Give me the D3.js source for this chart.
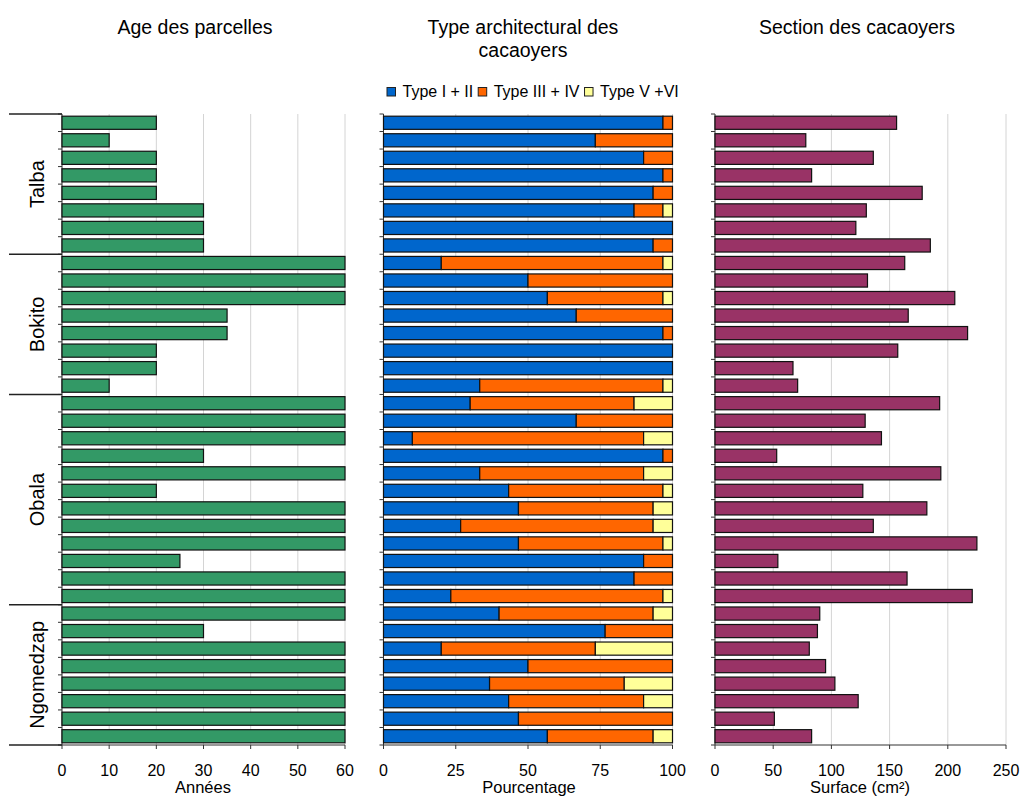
<!DOCTYPE html>
<html>
<head>
<meta charset="utf-8">
<script src="https://cdn.jsdelivr.net/npm/d3@7"></script>
<style>
  body { margin: 0; background: #fff; }
  text { font-family: "Liberation Sans", Arial, sans-serif; fill: #000; }
</style>
</head>
<body>
<script>
// sites and number of plots per site (top to bottom)
let groups = ["Talba", "Bokito", "Obala", "Ngomedzap"];
let groupSizes = [8, 8, 12, 8];

// age of plots (years)
let age = [20, 10, 20, 20, 20, 30, 30, 30,
           60, 60, 60, 35, 35, 20, 20, 10,
           60, 60, 60, 30, 60, 20, 60, 60, 60, 25, 60, 60,
           60, 30, 60, 60, 60, 60, 60, 60];

// architectural type (%)
let typeI_II = [96.7, 73.3, 90, 96.7, 93.3, 86.7, 100, 93.3,
                20, 50, 56.7, 66.7, 96.7, 100, 100, 33.3,
                30, 66.7, 10, 96.7, 33.3, 43.3, 46.7, 26.7, 46.7, 90, 86.7, 23.3,
                40, 76.7, 20, 50, 36.7, 43.3, 46.7, 56.7];
let typeIII_IV = [3.3, 26.7, 10, 3.3, 6.7, 10, 0, 6.7,
                  76.7, 50, 40, 33.3, 3.3, 0, 0, 63.4,
                  56.7, 33.3, 80, 3.3, 56.7, 53.4, 46.6, 66.6, 50, 10, 13.3, 73.4,
                  53.3, 23.3, 53.3, 50, 46.6, 46.7, 53.3, 36.6];
let typeV_VI = [0, 0, 0, 0, 0, 3.3, 0, 0,
                3.3, 0, 3.3, 0, 0, 0, 0, 3.3,
                13.3, 0, 10, 0, 10, 3.3, 6.7, 6.7, 3.3, 0, 0, 3.3,
                6.7, 0, 26.7, 0, 16.7, 10, 0, 6.7];
let typeKeys = ["Type I + II", "Type III + IV", "Type V +VI"];
let typeColors = ["#0066cc", "#ff6600", "#ffff99"];

// trunk section (cm²)
let surface = [156, 78, 136, 83, 178, 130, 121, 185,
               163, 131, 206, 166, 217, 157, 67, 71,
               193, 129, 143, 53, 194, 127, 182, 136, 225, 54, 165, 221,
               90, 88, 81, 95, 103, 123, 51, 83];

let xTicks1 = [0, 10, 20, 30, 40, 50, 60];
let xTicks2 = [0, 25, 50, 75, 100];
let xTicks3 = [0, 50, 100, 150, 200, 250];

let plotTop = 114, plotBottom = 745;
let nRows = age.length;
let rows = d3.range(nRows);

let svg = d3.select("body").append("svg")
    .attr("width", 1022)
    .attr("height", 796);

let y = d3.scaleBand()
    .domain(rows)
    .range([plotTop, plotBottom])
    .paddingInner(0.25)
    .paddingOuter(0.125);

// panel frame: grid, axes, ticks
function frame(x, ticks) {
    let g = svg.append("g");
    g.selectAll(".grid")
        .data(ticks.slice(1))
        .enter().append("line")
        .attr("x1", d => x(d)).attr("x2", d => x(d))
        .attr("y1", plotTop).attr("y2", plotBottom)
        .attr("stroke", "#d4d4d4").attr("stroke-width", 1);

    let x0 = x.range()[0], x1 = x.range()[1];
    // y ticks at band limits
    g.selectAll(".yt")
        .data(d3.range(nRows + 1))
        .enter().append("line")
        .attr("x1", x0 - 4).attr("x2", x0)
        .attr("y1", i => plotTop + i * y.step()).attr("y2", i => plotTop + i * y.step())
        .attr("stroke", "#333");
    g.append("line")
        .attr("x1", x0).attr("x2", x0).attr("y1", plotTop).attr("y2", plotBottom)
        .attr("stroke", "#333");
    g.append("line")
        .attr("x1", x0).attr("x2", x1).attr("y1", plotBottom).attr("y2", plotBottom)
        .attr("stroke", "#333");
    g.selectAll(".xt")
        .data(ticks)
        .enter().append("line")
        .attr("x1", d => x(d)).attr("x2", d => x(d))
        .attr("y1", plotBottom).attr("y2", plotBottom + 4)
        .attr("stroke", "#333");
    g.selectAll(".xl")
        .data(ticks)
        .enter().append("text")
        .attr("x", d => x(d)).attr("y", 776)
        .attr("text-anchor", "middle")
        .style("font-size", "16px")
        .text(d => d);
    return g;
}

// ---- panel 1 : age
let x1 = d3.scaleLinear().domain([0, 60]).range([62, 345]);
frame(x1, xTicks1);
svg.append("g").selectAll("rect")
    .data(age)
    .enter().append("rect")
    .attr("x", x1(0))
    .attr("y", (d, i) => y(i))
    .attr("width", d => x1(d) - x1(0))
    .attr("height", y.bandwidth())
    .attr("fill", "#339966")
    .attr("stroke", "#111").attr("stroke-width", 1.2);

// site labels and separators
let bounds = [0];
groupSizes.forEach(n => bounds.push(bounds[bounds.length - 1] + n));
svg.selectAll(".sep")
    .data(bounds)
    .enter().append("line")
    .attr("x1", 9).attr("x2", 62)
    .attr("y1", b => plotTop + b * y.step()).attr("y2", b => plotTop + b * y.step())
    .attr("stroke", "#222").attr("stroke-width", 1.5);
svg.selectAll(".grp")
    .data(groups)
    .enter().append("text")
    .attr("transform", (d, i) => {
        let cy = plotTop + (bounds[i] + bounds[i + 1]) / 2 * y.step();
        return "translate(37," + cy + ") rotate(-90)";
    })
    .attr("text-anchor", "middle")
    .attr("dominant-baseline", "central")
    .style("font-size", "20px")
    .text(d => d);

// ---- panel 2 : architectural type (stacked)
let x2 = d3.scaleLinear().domain([0, 100]).range([383.5, 672.5]);
frame(x2, xTicks2);
let typeData = rows.map(i => ({
    "Type I + II": typeI_II[i],
    "Type III + IV": typeIII_IV[i],
    "Type V +VI": typeV_VI[i]
}));
let stacked = d3.stack().keys(typeKeys)(typeData);
svg.append("g").selectAll("g")
    .data(stacked)
    .enter().append("g")
    .attr("fill", (d, i) => typeColors[i])
    .selectAll("rect")
    .data(d => d)
    .enter().append("rect")
    .filter(d => d[1] - d[0] > 0)
    .attr("x", d => x2(d[0]))
    .attr("y", d => y(typeData.indexOf(d.data)))
    .attr("width", d => x2(d[1]) - x2(d[0]))
    .attr("height", y.bandwidth())
    .attr("stroke", "#111").attr("stroke-width", 1.2);

// legend
let leg = svg.append("g");
let lx = 387;
typeKeys.forEach((k, i) => {
    leg.append("rect")
        .attr("x", lx).attr("y", 87.5)
        .attr("width", 8.5).attr("height", 8.5)
        .attr("fill", typeColors[i])
        .attr("stroke", "#222").attr("stroke-width", 1);
    let t = leg.append("text")
        .attr("x", lx + 15.5).attr("y", 97)
        .style("font-size", "16px")
        .text(k);
    lx += 15.5 + t.node().getComputedTextLength() + 5;
});

// ---- panel 3 : section
let x3 = d3.scaleLinear().domain([0, 250]).range([715, 1006]);
frame(x3, xTicks3);
svg.append("g").selectAll("rect")
    .data(surface)
    .enter().append("rect")
    .attr("x", x3(0))
    .attr("y", (d, i) => y(i))
    .attr("width", d => x3(d) - x3(0))
    .attr("height", y.bandwidth())
    .attr("fill", "#993366")
    .attr("stroke", "#111").attr("stroke-width", 1.2);

// titles
let titles = [
    {x: 195, lines: ["Age des parcelles"], axis: "Années", ax: 203},
    {x: 523, lines: ["Type architectural des", "cacaoyers"], axis: "Pourcentage", ax: 529},
    {x: 857, lines: ["Section des cacaoyers"], axis: "Surface (cm²)", ax: 860}
];
titles.forEach(t => {
    t.lines.forEach((l, j) => {
        svg.append("text")
            .attr("x", t.x).attr("y", 34 + j * 23)
            .attr("text-anchor", "middle")
            .style("font-size", "19.5px")
            .text(l);
    });
    svg.append("text")
        .attr("x", t.ax).attr("y", 793)
        .attr("text-anchor", "middle")
        .style("font-size", "16.5px")
        .text(t.axis);
});
</script>
</body>
</html>
